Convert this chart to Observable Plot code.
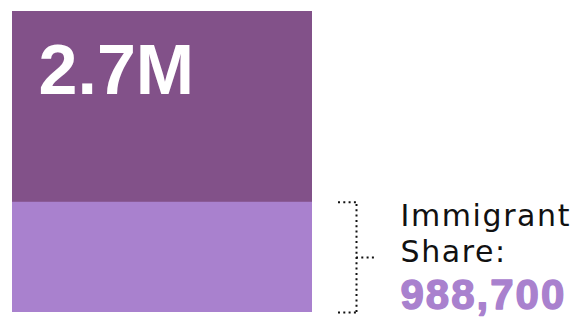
<!DOCTYPE html>
<html>
<head>
<meta charset="utf-8">
<script src="https://cdn.jsdelivr.net/npm/d3@7"></script>
<script src="https://cdn.jsdelivr.net/npm/@observablehq/plot@0.6"></script>
<style>
  html, body { margin: 0; padding: 0; background: #fff; }
  #chart svg { display: block; }
</style>
</head>
<body>
<div id="chart"></div>
<script>
// Data
const totalLabel = "2.7M";
const totalValue = 2700000;
const shareLabel = ["Immigrant", "Share:"];
const shareValue = 988700;
const shareValueLabel = "988,700";

const darkPurple = "#825189";
const lightPurple = "#a981ce";

const segments = [
  {part: "total", y1: 0, y2: totalValue, fill: darkPurple},
  {part: "immigrant", y1: 0, y2: shareValue, fill: lightPurple}
];

const plot = Plot.plot({
  width: 582,
  height: 318,
  marginLeft: 12,
  marginRight: 270,
  marginTop: 11,
  marginBottom: 6,
  x: {domain: [0, 1], axis: null},
  y: {domain: [0, totalValue], axis: null},
  style: {background: "#fff"},
  marks: [
    Plot.rectY(segments, {x1: 0, x2: 1, y1: "y1", y2: "y2", fill: "fill"}),
    Plot.text([totalLabel], {
      x: 0, y: totalValue, text: d => d,
      textAnchor: "start", lineAnchor: "bottom",
      dx: 26, dy: 82,
      fill: "#fff", fontSize: 70, fontWeight: "bold",
      fontFamily: "Liberation Sans, Arial, sans-serif"
    }),
    // bracket
    Plot.ruleX([1], {
      y1: 0, y2: shareValue, dx: 44,
      stroke: "#111", strokeWidth: 2, strokeDasharray: "2 3.3"
    }),
    Plot.ruleY([0, shareValue], {
      x1: 1, x2: 1, insetLeft: 26, insetRight: -45,
      stroke: "#111", strokeWidth: 2, strokeDasharray: "2 3.3"
    }),
    Plot.ruleY([shareValue / 2], {
      x1: 1, x2: 1, insetLeft: 44, insetRight: -62,
      stroke: "#111", strokeWidth: 2, strokeDasharray: "2 3.3"
    }),
    Plot.text([shareLabel.join("\n")], {
      x: 1, y: shareValue, text: d => d,
      textAnchor: "start", lineAnchor: "bottom", lineHeight: 1.213,
      dx: 88, dy: 60,
      fill: "#111", fontSize: 30,
      fontFamily: "DejaVu Sans, sans-serif"
    }),
    Plot.text([shareValueLabel], {
      x: 1, y: 0, text: d => d,
      textAnchor: "start", lineAnchor: "bottom",
      dx: 88, dy: -4,
      fill: lightPurple, stroke: lightPurple, strokeWidth: 1.4,
      fontSize: 42, fontWeight: "bold",
      fontFamily: "Liberation Sans, Arial, sans-serif"
    })
  ]
});

d3.select(plot).selectAll("text").each(function() {
  const t = d3.select(this).text();
  if (t === shareValueLabel) d3.select(this).style("letter-spacing", "2px");
  if (t.indexOf("Immigrant") >= 0) d3.select(this).style("letter-spacing", "1.6px");
});

document.getElementById("chart").appendChild(plot);
</script>
</body>
</html>
